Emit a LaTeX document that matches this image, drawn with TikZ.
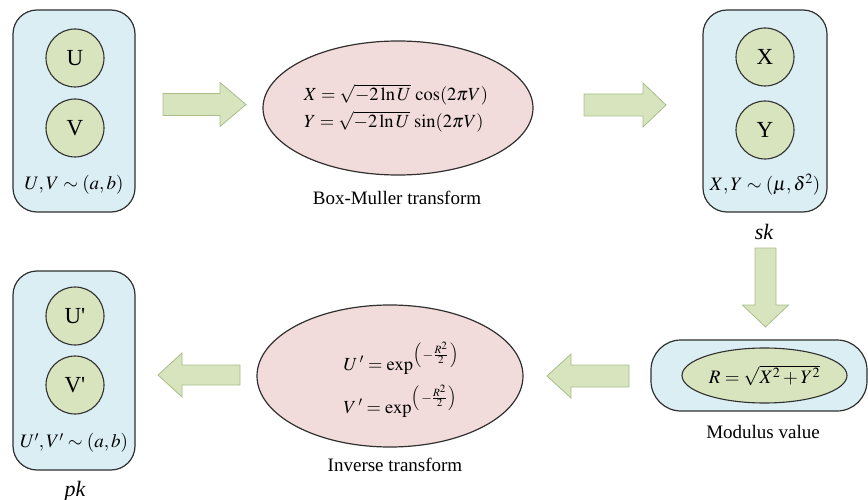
\documentclass[tikz,border=0pt]{standalone}
\usepackage{mathptmx}
\usepackage{fontspec}
\setmainfont{Liberation Serif}
\usetikzlibrary{shapes.geometric}
\definecolor{boxblue}{HTML}{DAEEF3}
\definecolor{circgreen}{HTML}{D7E4BD}
\definecolor{pinkfill}{HTML}{F2DCDB}
\definecolor{arrowfill}{HTML}{D7E4BD}
\definecolor{arrowedge}{HTML}{A9BD8A}
\definecolor{edge}{HTML}{303030}
\newcommand{\bigpar}{\left(\,-\frac{R^2}{2}\,\rule[-6pt]{0pt}{22pt}\right)}
\tikzset{
 panel/.style={draw=edge, line width=1.2pt, fill=boxblue, rounded corners=24pt, inner sep=0pt},
 var/.style={circle, draw=edge, line width=1.1pt, fill=circgreen, minimum size=58pt, inner sep=0pt, font=\fontsize{23}{25}\selectfont},
 bigell/.style={ellipse, draw=edge, line width=1.2pt, fill=pinkfill, inner sep=0pt},
 lbl/.style={font=\fontsize{19}{22}\selectfont},
 eq/.style={font=\fontsize{18.5}{27}\selectfont, align=left},
 tag/.style={font=\fontsize{22}{24}\selectfont\itshape},
 blockarrow/.style={fill=arrowfill, draw=arrowedge, line width=0.8pt, line join=miter}
}
\begin{document}
\begin{tikzpicture}[x=1pt,y=-1pt]
\useasboundingbox (0,0) rectangle (868,500);
% panels
\node[panel, minimum width=122pt, minimum height=202pt] (uvbox) at (74,111) {};
\node[panel, minimum width=124pt, minimum height=202pt] (xybox) at (765,111) {};
\node[panel, minimum width=122pt, minimum height=199pt] (pkbox) at (74,370.5) {};
\node[panel, rounded corners=30pt, minimum width=216pt, minimum height=71pt] (modbox) at (759,375.5) {};
% circles
\node[var] (U) at (75,58) {U};
\node[var] (V) at (75,128) {V};
\node[var] (X) at (765,57) {X};
\node[var] (Y) at (765,130) {Y};
\node[var] (Up) at (75,316) {U\textquotesingle};
\node[var] (Vp) at (75,385) {V\textquotesingle};
% distribution labels
\node[lbl] (uvlab) at (74,185) {$U,V\sim(a,b)$};
\node[lbl] (xylab) at (765,185) {$X,Y\sim(\mu,\delta^2)$};
\node[lbl] (uvplab) at (74,443) {$U',V'\sim(a,b)$};
\node[tag] (sk) at (764,232) {sk};
\node[tag] (pk) at (75,491) {pk};
% ellipses
\node[bigell, minimum width=270pt, minimum height=134pt] (bm) at (398,108) {};
\node[eq] (bmeq) at (396,108) {$X=\sqrt{-2\ln U}\,\cos(2\pi V)$\\$Y=\sqrt{-2\ln U}\,\sin(2\pi V)$};
\node[lbl] (bmlab) at (397,198) {Box-Muller transform};
\node[bigell, minimum width=266pt, minimum height=142pt] (inv) at (390,376) {};
\node[font=\fontsize{18.5}{22}\selectfont, anchor=base west] (ueq) at (340,370) {$U\,'=\exp^{\bigpar}$};
\node[font=\fontsize{18.5}{22}\selectfont, anchor=base west] (veq) at (340,413) {$V\,'=\exp^{\bigpar}$};
\node[lbl] (invlab) at (395,465) {Inverse transform};
\node[ellipse, draw=edge, line width=1.1pt, fill=circgreen, minimum width=165pt, minimum height=55pt, inner sep=0pt, font=\fontsize{19}{22}\selectfont] (R) at (764.5,375.5) {$R=\sqrt{X^2+Y^2}$};
\node[lbl] (modlab) at (763,432) {Modulus value};
% block arrows
\draw[blockarrow] (163,93.5) -- (220,93.5) -- (220,82.5) -- (246,104.5) -- (220,126.5) -- (220,115.5) -- (163,115.5) -- cycle;
\draw[blockarrow] (584,94) -- (643,94) -- (643,83) -- (666,105) -- (643,127) -- (643,116) -- (584,116) -- cycle;
\draw[blockarrow] (755,248) -- (776,248) -- (776,305) -- (788.5,305) -- (765.5,327) -- (742.5,305) -- (755,305) -- cycle;
\draw[blockarrow] (629,365) -- (571,365) -- (571,354) -- (547,376) -- (571,398) -- (571,387) -- (629,387) -- cycle;
\draw[blockarrow] (240,365) -- (182,365) -- (182,353) -- (158,375) -- (182,397) -- (182,385) -- (240,385) -- cycle;
\end{tikzpicture}
\end{document}
